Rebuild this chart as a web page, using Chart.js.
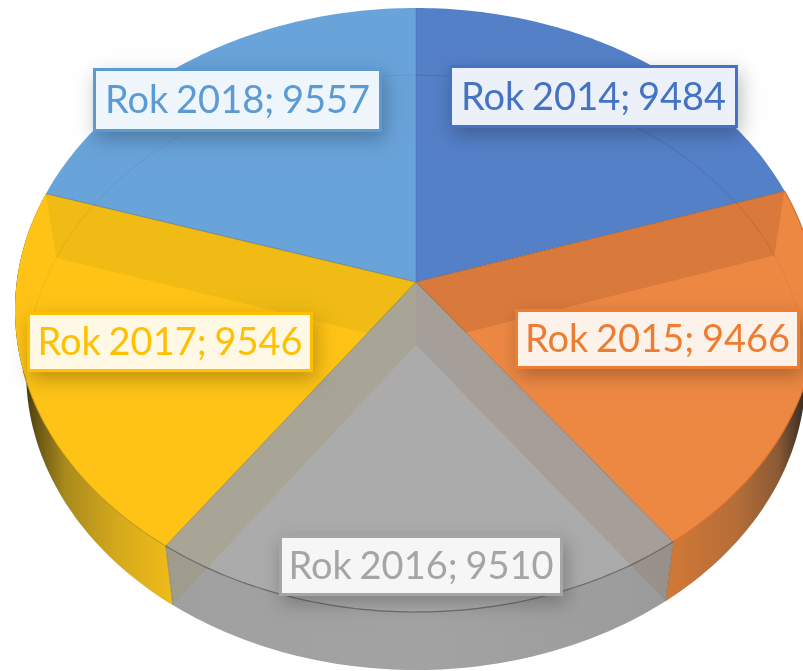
<!DOCTYPE html>
<html><head><meta charset="utf-8">
<style>html,body{margin:0;padding:0;background:#fff;overflow:hidden}canvas{display:block;filter:blur(0.45px)}</style>
<script src="https://cdn.jsdelivr.net/npm/chart.js@4/dist/chart.umd.min.js"></script>
</head><body><canvas id="c" width="803" height="671"></canvas>
<script>
const categories = ["Rok 2014","Rok 2015","Rok 2016","Rok 2017","Rok 2018"];
const values = [9484,9466,9510,9546,9557];
const colors = ["#5480C8","#ED8843","#ABABAB","#FFC316","#68A3D9"];
const textColors = ["#4472C4","#ED7D31","#A5A5A5","#FFC000","#5B9BD5"];
const labelBoxes = [[449,65,289,63],[515,309,285,60],[279,535,284,61],[27,312,286,60],[93,68,289,64]];

// perspective projection of the pie's unit disc onto the page
const K=0.0927, A=399.3, B=299.4, CX=416, TOP_Y=282, BOT_Y=345, BSX=0.972, BSY=0.985;
function proj(th,r,bottom){
  const u=Math.sin(th)*r, v=-Math.cos(th)*r, w=1-K*v;
  const x=A*u/w, y=B*v/w;
  return bottom?[CX+BSX*x,BOT_Y+BSY*y]:[CX+x,TOP_Y+y];
}
const th=a=>a+Math.PI/2;
function arcPts(ctx,t1,t2,bottom,move){
  const n=Math.max(8,Math.ceil(Math.abs(t2-t1)*60));
  for(let i=0;i<=n;i++){
    const p=proj(t1+(t2-t1)*i/n,1,bottom);
    (i===0&&move)?ctx.moveTo(p[0],p[1]):ctx.lineTo(p[0],p[1]);
  }
}
function facePath(ctx,t1,t2){
  ctx.beginPath();ctx.moveTo(CX,TOP_Y);arcPts(ctx,t1,t2,false,false);ctx.closePath();
}
function poly(ctx,pts){
  ctx.beginPath();pts.forEach((p,i)=>i?ctx.lineTo(p[0],p[1]):ctx.moveTo(p[0],p[1]));ctx.closePath();
}
// the library's arc element draws the projected top face
Chart.ArcElement.prototype.draw=function(ctx){
  const t1=th(this.startAngle),t2=th(this.endAngle);
  facePath(ctx,t1,t2);
  ctx.fillStyle=this.options.backgroundColor;
  ctx.fill();
};
function wallFill(ctx,i){
  if(i===3){const g=ctx.createLinearGradient(18,0,174,0);
    g.addColorStop(0,'#2a2308');g.addColorStop(.1,'#5f4e12');g.addColorStop(.3,'#a98a1c');g.addColorStop(.65,'#d6aa1c');g.addColorStop(1,'#f0bc18');return g;}
  if(i===1){const g=ctx.createLinearGradient(668,0,806,0);
    g.addColorStop(0,'#d27836');g.addColorStop(.5,'#b56d38');g.addColorStop(.8,'#8a5a35');g.addColorStop(1,'#33291f');return g;}
  if(i===2){const g=ctx.createLinearGradient(172,0,668,0);
    g.addColorStop(0,'#a0a0a0');g.addColorStop(.5,'#a3a3a3');g.addColorStop(1,'#9b9b9b');return g;}
  return '#555';
}
const pie3d={
  id:'pie3d',
  beforeDatasetsDraw(chart){
    const ctx=chart.ctx, arcs=chart.getDatasetMeta(0).data;
    arcs.forEach((a,i)=>{
      if(i===0||i===4) return;
      const t1=th(a.startAngle),t2=th(a.endAngle);
      ctx.beginPath();arcPts(ctx,t1,t2,false,true);arcPts(ctx,t2,t1,true,false);ctx.closePath();
      ctx.fillStyle=wallFill(ctx,i);ctx.fill();
    });
  },
  afterDatasetsDraw(chart){
    const ctx=chart.ctx, arcs=chart.getDatasetMeta(0).data;
    const T=i=>[th(arcs[i].startAngle),th(arcs[i].endAngle)];
    const AP=[CX,TOP_Y],AB=[CX,BOT_Y];
    const [o1]=T(1),[,y2]=T(3),[g1,g2]=T(2);
    // inner walls seen through the faces
    ctx.save();facePath(ctx,o1,T(1)[1]);ctx.clip();
    poly(ctx,[proj(o1,1,false),AP,AB,proj(o1,1,true)]);ctx.fillStyle='#D97A3C';ctx.fill();ctx.restore();
    ctx.save();facePath(ctx,T(3)[0],y2);ctx.clip();
    poly(ctx,[proj(y2,1,false),AP,AB,proj(y2,1,true)]);ctx.fillStyle='#EFBB14';ctx.fill();ctx.restore();
    // translucent slice: bands along both sides
    poly(ctx,[AP,proj(g2,1,false),proj(g2,1,true),AB]);ctx.fillStyle='rgba(151,131,31,.15)';ctx.fill();
    poly(ctx,[AP,proj(g1,1,false),proj(g1,1,true),AB]);ctx.fillStyle='rgba(138,84,44,.15)';ctx.fill();
    // rim of the hidden base
    ctx.lineWidth=1;ctx.strokeStyle='rgba(0,0,0,.06)';
    ctx.beginPath();arcPts(ctx,T(3)[0],T(0)[1]+2*Math.PI,true,true);ctx.stroke();
    ctx.beginPath();arcPts(ctx,T(0)[0],T(1)[1],true,true);ctx.stroke();
    // edges
    arcs.forEach((a,i)=>{
      const t1=th(a.startAngle);const p=proj(t1,1,false);
      ctx.beginPath();ctx.moveTo(CX,TOP_Y);ctx.lineTo(p[0],p[1]);
      ctx.strokeStyle=(i===0)?'rgba(60,90,140,.25)':'rgba(70,70,60,.4)';ctx.stroke();
    });
    [g1,g2].forEach(t=>{const p=proj(t,1,false),q=proj(t,1,true);
      ctx.beginPath();ctx.moveTo(p[0],p[1]);ctx.lineTo(q[0],q[1]);ctx.strokeStyle='rgba(80,80,80,.35)';ctx.stroke();});
    // front rim lines
    ctx.beginPath();arcPts(ctx,g1,g2,false,true);ctx.strokeStyle='rgba(90,90,90,.8)';ctx.lineWidth=1.2;ctx.stroke();
    ctx.beginPath();arcPts(ctx,o1,g1,false,true);ctx.strokeStyle='#D9722F';ctx.lineWidth=1.2;ctx.stroke();
    ctx.beginPath();arcPts(ctx,g2,T(3)[1]-0.6,false,true);ctx.strokeStyle='rgba(170,130,10,.6)';ctx.stroke();
  },
  afterDraw(chart){
    const ctx=chart.ctx;
    categories.forEach((c,i)=>{
      const [x,y,w,h]=labelBoxes[i];
      ctx.save();
      ctx.shadowColor='rgba(0,0,0,.26)';ctx.shadowBlur=18;ctx.shadowOffsetX=3;ctx.shadowOffsetY=7;
      ctx.fillStyle=textColors[i];ctx.fillRect(x,y,w,h);
      ctx.restore();
      ctx.fillStyle='#fff';ctx.fillRect(x+3,y+3,w-6,h-6);
      ctx.fillStyle=colors[i]+'1c';ctx.fillRect(x+3,y+3,w-6,h-6);
      ctx.fillStyle=textColors[i];
      ctx.font='38px Lato';ctx.wordSpacing='-2px';ctx.textAlign='center';ctx.textBaseline='middle';
      ctx.fillText(c+'; '+values[i],x+w/2,y+h/2+1);
    });
  }
};
new Chart(document.getElementById('c'),{
  type:'pie',
  data:{labels:categories,datasets:[{data:values,backgroundColor:colors,borderWidth:0}]},
  options:{responsive:false,animation:false,
    plugins:{legend:{display:false},tooltip:{enabled:false}}},
  plugins:[pie3d]
});
</script></body></html>
